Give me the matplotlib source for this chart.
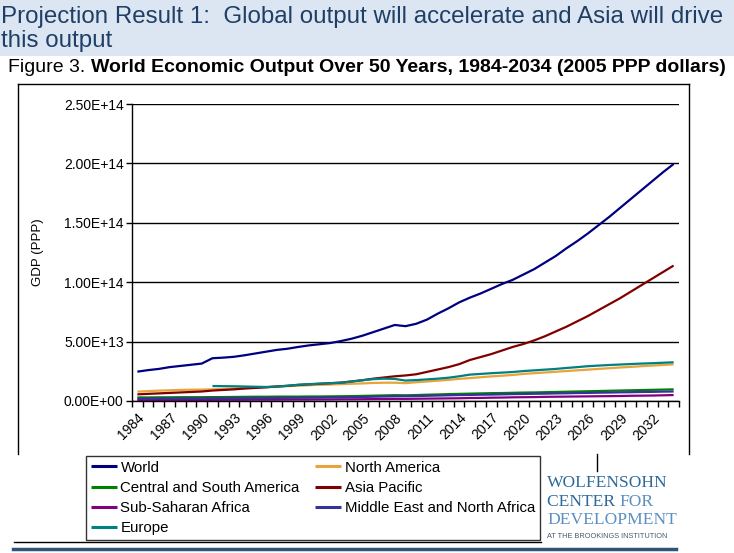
import numpy as np
import matplotlib
matplotlib.use('Agg')
import matplotlib.pyplot as plt
import matplotlib.transforms as mtransforms
from matplotlib import font_manager
from matplotlib.lines import Line2D
from matplotlib.patches import Rectangle

installed = {f.name for f in font_manager.fontManager.ttflist}
NARROW = 'Liberation Sans Narrow' if 'Liberation Sans Narrow' in installed else 'Liberation Sans'
plt.rcParams['font.family'] = ['Liberation Sans', 'DejaVu Sans']

# 数据 (单位: 1e13 美元, 2005 PPP)
years = list(range(1984, 2035))

world = [2.47, 2.60, 2.70, 2.85, 2.95, 3.05, 3.15, 3.60, 3.65, 3.72, 3.85, 4.00, 4.15,
         4.30, 4.40, 4.55, 4.68, 4.78, 4.88, 5.05, 5.25, 5.50, 5.80, 6.10, 6.40, 6.30,
         6.50, 6.85, 7.35, 7.80, 8.30, 8.70, 9.05, 9.45, 9.85, 10.20, 10.65, 11.10, 11.65,
         12.20, 12.85, 13.45, 14.10, 14.80, 15.50, 16.25, 17.00, 17.75, 18.50, 19.25, 19.95]

north_america = [0.79, 0.83, 0.87, 0.90, 0.93, 0.95, 0.96, 0.98, 1.01, 1.05, 1.09, 1.13,
                 1.17, 1.21, 1.25, 1.29, 1.33, 1.36, 1.39, 1.42, 1.45, 1.48, 1.52, 1.54,
                 1.54, 1.50, 1.58, 1.64, 1.71, 1.78, 1.86, 1.93, 2.00, 2.07, 2.13, 2.19,
                 2.28, 2.34, 2.40, 2.46, 2.52, 2.58, 2.64, 2.70, 2.76, 2.82, 2.87, 2.93,
                 2.98, 3.03, 3.09]

cs_america = [0.30, 0.30, 0.31, 0.31, 0.32, 0.32, 0.32, 0.33, 0.33, 0.34, 0.35, 0.36, 0.36,
              0.37, 0.37, 0.37, 0.38, 0.38, 0.39, 0.40, 0.41, 0.43, 0.45, 0.47, 0.49, 0.48,
              0.50, 0.53, 0.55, 0.58, 0.60, 0.62, 0.64, 0.66, 0.67, 0.69, 0.71, 0.72, 0.74,
              0.76, 0.78, 0.80, 0.82, 0.84, 0.86, 0.88, 0.90, 0.92, 0.94, 0.96, 0.98]

asia_pacific = [0.56, 0.60, 0.64, 0.68, 0.72, 0.76, 0.80, 0.88, 0.93, 0.98, 1.05, 1.10,
                1.15, 1.22, 1.28, 1.35, 1.40, 1.45, 1.50, 1.55, 1.65, 1.75, 1.88, 1.98,
                2.08, 2.15, 2.25, 2.45, 2.65, 2.85, 3.10, 3.45, 3.70, 3.95, 4.25, 4.55,
                4.80, 5.10, 5.45, 5.85, 6.25, 6.70, 7.15, 7.65, 8.15, 8.65, 9.20, 9.75,
                10.30, 10.85, 11.40]

ss_africa = [0.08, 0.08, 0.08, 0.09, 0.09, 0.09, 0.09, 0.09, 0.10, 0.10, 0.10, 0.11, 0.11,
             0.11, 0.12, 0.12, 0.12, 0.13, 0.13, 0.14, 0.14, 0.15, 0.16, 0.17, 0.18, 0.18,
             0.19, 0.20, 0.21, 0.22, 0.23, 0.25, 0.26, 0.28, 0.29, 0.31, 0.32, 0.33, 0.35,
             0.36, 0.37, 0.38, 0.39, 0.40, 0.41, 0.42, 0.44, 0.45, 0.46, 0.48, 0.50]

me_n_africa = [0.20, 0.20, 0.21, 0.21, 0.21, 0.22, 0.22, 0.23, 0.23, 0.24, 0.24, 0.25, 0.25,
               0.26, 0.27, 0.27, 0.28, 0.29, 0.30, 0.31, 0.32, 0.34, 0.36, 0.38, 0.40, 0.41,
               0.42, 0.44, 0.46, 0.48, 0.50, 0.51, 0.53, 0.54, 0.56, 0.58, 0.59, 0.61, 0.62,
               0.64, 0.65, 0.67, 0.68, 0.70, 0.71, 0.73, 0.74, 0.76, 0.77, 0.79, 0.80]

# 欧洲从 1991 年开始
europe = [None] * 7 + [1.26, 1.25, 1.24, 1.22, 1.20, 1.18, 1.22, 1.28, 1.37, 1.42, 1.46,
                       1.50, 1.54, 1.64, 1.75, 1.84, 1.88, 1.86, 1.72, 1.76, 1.82, 1.88,
                       1.96, 2.08, 2.22, 2.28, 2.34, 2.39, 2.44, 2.52, 2.58, 2.64, 2.70,
                       2.78, 2.85, 2.93, 2.98, 3.03, 3.07, 3.11, 3.15, 3.18, 3.22, 3.26]

series = [
    ('World', world, '#000080'),
    ('North America', north_america, '#e8a33a'),
    ('Central and South America', cs_america, '#008000'),
    ('Asia Pacific', asia_pacific, '#800000'),
    ('Sub-Saharan Africa', ss_africa, '#800080'),
    ('Middle East and North Africa', me_n_africa, '#333399'),
    ('Europe', europe, '#008080'),
]

W, H = 734, 553
fig = plt.figure(figsize=(W / 100, H / 100), dpi=100)


def fx(px):
    return px / W


def fy(py):
    return 1 - py / H


# 顶部标题栏
fig.patches.append(Rectangle((0, fy(56)), 1, 56 / H, transform=fig.transFigure,
                             facecolor='#dce6f2', edgecolor='none', zorder=0))
title_color = '#1f3f66'
fig.text(fx(1), fy(17), 'Projection Result 1:  Global output will accelerate and Asia will drive',
         fontsize=17.4, color=title_color, va='center', ha='left', family=NARROW)
fig.text(fx(1), fy(41), 'this output', fontsize=17.4, color=title_color,
         va='center', ha='left', family=NARROW)

# 图表外框 (无底边)
frame_kw = dict(color='black', linewidth=1, transform=fig.transFigure)
fig.add_artist(Line2D([fx(18), fx(689)], [fy(84), fy(84)], **frame_kw))
fig.add_artist(Line2D([fx(18), fx(18)], [fy(84), fy(454)], **frame_kw))
fig.add_artist(Line2D([fx(689), fx(689)], [fy(84), fy(454)], **frame_kw))
fig.add_artist(Line2D([fx(597), fx(597)], [fy(454), fy(471)], **frame_kw))

# 主图
ax = fig.add_axes([fx(132), fy(401), fx(679 - 132), (401 - 104) / H])
x = np.arange(len(years))
for name, vals, color in series:
    v = np.array([np.nan if a is None else a * 1e13 for a in vals], dtype=float)
    ax.plot(x, v, color=color, linewidth=1.6, label=name, solid_capstyle='butt')

ax.set_xlim(-0.5, len(years) - 0.5)
ax.set_ylim(0, 2.5e14)
ax.set_yticks(np.arange(0, 2.51e14, 0.5e14))
ax.set_yticklabels([f'{v:.2E}' for v in np.arange(0, 2.51e14, 0.5e14)], fontsize=10)
ax.yaxis.grid(True, color='black', linewidth=1)
ax.set_axisbelow(True)
ax.set_ylabel('GDP (PPP)', fontsize=9.5, labelpad=14)

ax.set_xticks(np.arange(-0.5, len(years)))
ax.set_xticklabels([])
label_idx = list(range(0, len(years) - 2, 3))
ax.set_xticks(label_idx, minor=True)
ax.set_xticklabels([str(years[i]) for i in label_idx], minor=True, rotation=45,
                   ha='right', rotation_mode='anchor', fontsize=10)
shift = mtransforms.ScaledTranslation(-4 / 72, 0, fig.dpi_scale_trans)
for lab in ax.get_xticklabels(minor=True):
    lab.set_transform(lab.get_transform() + shift)
ax.tick_params(axis='x', which='major', length=4, width=1, direction='out')
ax.tick_params(axis='x', which='minor', length=0, pad=7)
ax.tick_params(axis='y', length=4, width=1, direction='out', pad=2)
for s in ['top', 'right']:
    ax.spines[s].set_visible(False)
for s in ['left', 'bottom']:
    ax.spines[s].set_linewidth(1)

# 图例: 两列, 按行排列
handles, labels = ax.get_legend_handles_labels()
order = [0, 2, 4, 6, 1, 3, 5]
leg = fig.legend([handles[i] for i in order], [labels[i] for i in order],
                 loc='upper left', bbox_to_anchor=(fx(86), fy(456)), ncol=2,
                 fontsize=10.8, frameon=True, fancybox=False, edgecolor='black',
                 handlelength=1.75, handletextpad=0.25, columnspacing=1.0,
                 labelspacing=0.42, borderpad=0.3, borderaxespad=0)
leg.get_frame().set_linewidth(1)
for ln in leg.get_lines():
    ln.set_linewidth(2.2)

# 底部分隔线
fig.add_artist(Line2D([fx(14), fx(541)], [fy(542), fy(542)], color='black',
                      linewidth=1, transform=fig.transFigure))
fig.add_artist(Line2D([fx(13), fx(676)], [fy(548.5), fy(548.5)], color='#2f5576',
                      linewidth=2.5, transform=fig.transFigure))

# Figure 3 标题 (前半常规, 后半粗体)
fig.canvas.draw()
t1 = fig.text(fx(8), fy(68), 'Figure 3. ', fontsize=14, va='center', ha='left',
              family=NARROW)
r = fig.canvas.get_renderer()
bb = t1.get_window_extent(renderer=r)
fig.text(bb.x1 / W, fy(68), 'World Economic Output Over 50 Years, 1984-2034 (2005 PPP dollars)',
         fontsize=14, va='center', ha='left', fontweight='bold', family=NARROW)

# 徽标文字
dark_blue = '#2d6a9a'
light_blue = '#5b8fc0'
fig.text(fx(547), fy(483), 'WOLFENSOHN', fontsize=12.6, color=dark_blue,
         family='Liberation Serif', va='center', ha='left')
c1 = fig.text(fx(547), fy(502), 'CENTER ', fontsize=12.6, color=dark_blue,
              family='Liberation Serif', va='center', ha='left')
bb2 = c1.get_window_extent(renderer=r)
fig.text(bb2.x1 / W, fy(502), 'FOR', fontsize=12.6, color=light_blue,
         family='Liberation Serif', va='center', ha='left')
fig.text(fx(547), fy(520), 'DEVELOPMENT', fontsize=12.6, color=light_blue,
         family='Liberation Serif', va='center', ha='left')
fig.text(fx(547), fy(537), 'AT THE BROOKINGS INSTITUTION', fontsize=5.3, color='#4a5a6a',
         va='center', ha='left')

fig.savefig('out.png', dpi=100)
